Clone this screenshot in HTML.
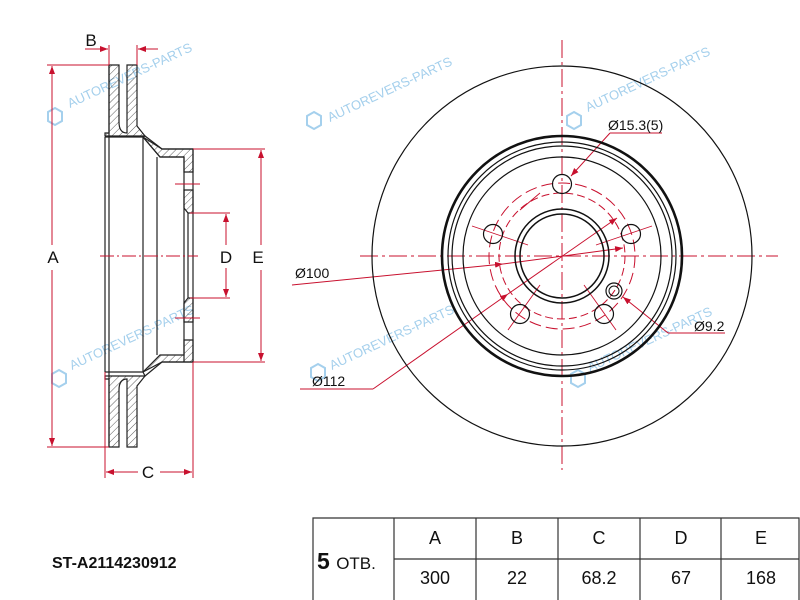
<!DOCTYPE html>
<html><head><meta charset="utf-8"><style>
html,body{margin:0;padding:0;background:#fff}
svg{display:block}
text{font-family:"Liberation Sans",Arial,sans-serif}
</style></head><body>
<svg width="800" height="600" viewBox="0 0 800 600" xmlns="http://www.w3.org/2000/svg">
<defs>
<pattern id="h" width="5" height="5" patternUnits="userSpaceOnUse" patternTransform="rotate(45)">
<line x1="0" y1="0" x2="0" y2="5" stroke="#333" stroke-width="0.8"/></pattern>
<marker id="ar" markerWidth="8" markerHeight="6" refX="8" refY="3" orient="auto" markerUnits="userSpaceOnUse">
<path d="M0,0 L8,3 L0,6z" fill="#c8102e"/></marker>
</defs>
<rect width="800" height="600" fill="#fff"/>

<g fill="#8ec4e8" font-size="13" opacity="0.8">
<text x="70" y="108" transform="rotate(-25 70 108)">AUTOREVERS-PARTS</text>
<text x="72" y="370" transform="rotate(-25 72 370)">AUTOREVERS-PARTS</text>
<text x="588" y="112" transform="rotate(-25 588 112)">AUTOREVERS-PARTS</text>
<text x="330" y="122" transform="rotate(-25 330 122)">AUTOREVERS-PARTS</text>
<text x="332" y="370" transform="rotate(-25 332 370)">AUTOREVERS-PARTS</text>
<text x="590" y="372" transform="rotate(-25 590 372)">AUTOREVERS-PARTS</text>
</g>
<g fill="none" stroke="#8ec4e8" stroke-width="2" opacity="0.8">
<polygon points="55,108 62,112 62,121 55,125 48,121 48,112"/>
<polygon points="59,370 66,374 66,383 59,387 52,383 52,374"/>
<polygon points="574,112 581,116 581,125 574,129 567,125 567,116"/>
<polygon points="314,112 321,116 321,125 314,129 307,125 307,116"/>
<polygon points="318,364 325,368 325,377 318,381 311,377 311,368"/>
<polygon points="578,370 585,374 585,383 578,387 571,383 571,374"/>
</g>

<g stroke="#222" stroke-width="1.2">
<path d="M109,65 H119 V122 Q119,133 127,133 V65 H137 V126 L145,136 H105 V133 H109Z" fill="url(#h)"/>
<path d="M109,447 H119 V390 Q119,379 127,379 V447 H137 V386 L145,376 H105 V379 H109Z" fill="url(#h)"/>
<path d="M105,137 H143 L145,136 L162,149 H193 V362 H162 L145,376 L143,372 L105,372" fill="none"/>
<path d="M143,137 L160,157 H184 V362" fill="none"/>
<path d="M143,137 L160,157 H184 V172 L193,172 V149 H162Z" fill="url(#h)"/>
<path d="M143,372 L160,355 H184 V340 L193,340 V362 H162Z" fill="url(#h)"/>
<path d="M184,190 H193 V213 H188 L184,208Z" fill="url(#h)"/>
<path d="M184,322 H193 V298 H188 L184,303Z" fill="url(#h)"/>
<line x1="105" y1="137" x2="105" y2="372"/>
<line x1="143" y1="137" x2="143" y2="372"/>
<line x1="157" y1="157" x2="157" y2="355"/>
<line x1="188" y1="213" x2="188" y2="298"/>
<line x1="109" y1="65" x2="109" y2="447"/>
</g>

<g stroke="#c8102e" stroke-width="1" fill="none">
<line x1="100" y1="256" x2="198" y2="256" stroke-dasharray="14,3,2,3"/>
<line x1="175" y1="184" x2="200" y2="184"/><line x1="175" y1="318" x2="200" y2="318"/>
<line x1="47" y1="65" x2="109" y2="65"/><line x1="47" y1="447" x2="109" y2="447"/>
<line x1="52" y1="245" x2="52" y2="66" marker-end="url(#ar)"/><line x1="52" y1="270" x2="52" y2="446" marker-end="url(#ar)"/>
<line x1="193" y1="149" x2="265" y2="149"/><line x1="193" y1="362" x2="265" y2="362"/>
<line x1="261" y1="245" x2="261" y2="150" marker-end="url(#ar)"/><line x1="261" y1="270" x2="261" y2="361" marker-end="url(#ar)"/>
<line x1="190" y1="213" x2="230" y2="213"/><line x1="190" y1="298" x2="230" y2="298"/>
<line x1="226" y1="245" x2="226" y2="214" marker-end="url(#ar)"/><line x1="226" y1="268" x2="226" y2="297" marker-end="url(#ar)"/>
<line x1="105" y1="372" x2="105" y2="478"/><line x1="193" y1="362" x2="193" y2="478"/>
<line x1="138" y1="472" x2="106" y2="472" marker-end="url(#ar)"/><line x1="160" y1="472" x2="192" y2="472" marker-end="url(#ar)"/>
<line x1="109" y1="45" x2="109" y2="65"/><line x1="137" y1="45" x2="137" y2="65"/>
<line x1="85" y1="49" x2="108" y2="49" marker-end="url(#ar)"/><line x1="158" y1="49" x2="138" y2="49" marker-end="url(#ar)"/>
</g>
<g font-size="17" fill="#111" text-anchor="middle">
<text x="91" y="46">B</text><text x="53" y="263">A</text><text x="226" y="263">D</text><text x="258" y="263">E</text><text x="148" y="478">C</text>
</g>

<g stroke="#c8102e" stroke-width="1" fill="none">
<line x1="562" y1="40" x2="562" y2="470" stroke-dasharray="18,4,3,4"/>
<line x1="360" y1="256" x2="778" y2="256" stroke-dasharray="18,4,3,4"/>
<circle cx="562" cy="256" r="63" stroke-dasharray="8,4"/>
<circle cx="562" cy="256" r="73" stroke-dasharray="12,5"/>
<g stroke-width="0.9">
<line x1="472" y1="226" x2="528" y2="245"/><line x1="652" y1="226" x2="596" y2="245"/>
<line x1="508" y1="330" x2="540" y2="285"/><line x1="616" y1="330" x2="584" y2="285"/>
<line x1="520" y1="210" x2="540" y2="193"/>
</g>
<path d="M610,133 H662"/><line x1="610" y1="133" x2="571" y2="176" marker-end="url(#ar)"/>
<line x1="292" y1="285" x2="503" y2="264" marker-end="url(#ar)"/><line x1="503" y1="264" x2="623" y2="248" marker-end="url(#ar)"/>
<path d="M300,389 H373"/><line x1="373" y1="389" x2="508" y2="294" marker-end="url(#ar)"/><line x1="508" y1="294" x2="617" y2="218" marker-end="url(#ar)"/>
<path d="M725,333 H668"/><line x1="668" y1="333" x2="623" y2="297" marker-end="url(#ar)"/>
</g>
<g stroke="#111" fill="none">
<circle cx="562" cy="256" r="190" stroke-width="1.2"/>
<circle cx="562" cy="256" r="120" stroke-width="2.6"/>
<circle cx="562" cy="256" r="114" stroke-width="1.2"/>
<circle cx="562" cy="256" r="110" stroke-width="1.2"/>
<circle cx="562" cy="256" r="99" stroke-width="1.2"/>
<circle cx="562" cy="256" r="47" stroke-width="1.5"/>
<circle cx="562" cy="256" r="42" stroke-width="1.5"/>
<circle cx="562" cy="184" r="9.5" stroke-width="1.2"/>
<circle cx="493" cy="234" r="9.5" stroke-width="1.2"/>
<circle cx="631" cy="234" r="9.5" stroke-width="1.2"/>
<circle cx="520" cy="314" r="9.5" stroke-width="1.2"/>
<circle cx="604" cy="314" r="9.5" stroke-width="1.2"/>
<circle cx="614" cy="291" r="8" stroke-width="1.2"/>
<circle cx="614" cy="291" r="5" stroke-width="1"/>
</g>
<g font-size="14" fill="#111">
<text x="608" y="130">Ø15.3(5)</text>
<text x="295" y="278">Ø100</text>
<text x="312" y="386">Ø112</text>
<text x="694" y="331">Ø9.2</text>
</g>

<text x="52" y="568" font-size="16" font-weight="bold" fill="#111">ST-A2114230912</text>
<g stroke="#333" stroke-width="1.2" fill="none">
<path d="M313,600 V518 H799 V600"/>
<line x1="394" y1="518" x2="394" y2="600"/><line x1="476" y1="518" x2="476" y2="600"/>
<line x1="558" y1="518" x2="558" y2="600"/><line x1="640" y1="518" x2="640" y2="600"/>
<line x1="721" y1="518" x2="721" y2="600"/>
<line x1="394" y1="559" x2="799" y2="559"/>
</g>
<text x="317" y="569" font-size="23" font-weight="bold" fill="#111">5 <tspan font-size="17" font-weight="normal">ОТВ.</tspan></text>
<g font-size="18" fill="#111" text-anchor="middle">
<text x="435" y="544">A</text><text x="517" y="544">B</text><text x="599" y="544">C</text><text x="681" y="544">D</text><text x="761" y="544">E</text>
<text x="435" y="584">300</text><text x="517" y="584">22</text><text x="599" y="584">68.2</text><text x="681" y="584">67</text><text x="761" y="584">168</text>
</g>
</svg>
</body></html>
